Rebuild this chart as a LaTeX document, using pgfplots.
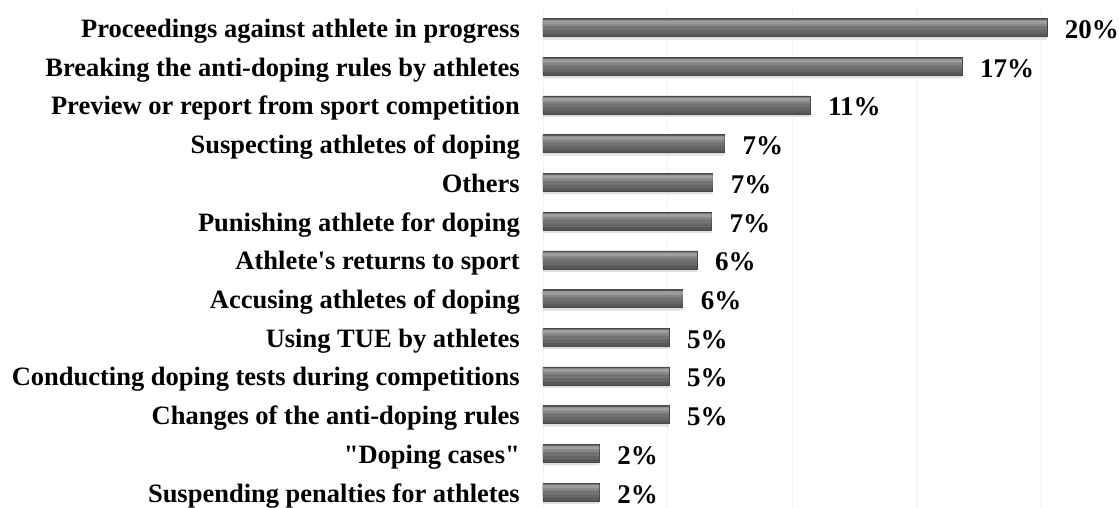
\documentclass[border=0pt]{standalone}
\usepackage{pgfplots}
\pgfplotsset{compat=1.18}
\usepackage{fontspec}
\setmainfont{Liberation Serif}
\pgfplotstableread{
y x m
0 20.2 20
1 16.8 17
2 10.7 11
3 7.27 7
4 6.8 7
5 6.75 7
6 6.17 6
7 5.6 6
8 5.05 5
9 5.05 5
10 5.05 5
11 2.25 2
12 2.25 2
}\bars
\begin{document}
\begin{tikzpicture}[x=1pt,y=1pt]
\path[use as bounding box] (0,0) rectangle (1119,507);
\begin{axis}[
  at={(543pt,-0.5pt)}, anchor=south west,
  scale only axis, width=498.8pt, height=495.4pt,
  xmin=0, xmax=20, ymin=-0.4, ymax=12.4, y dir=reverse,
  axis line style={draw=none},
  tick style={draw=none},
  clip=false,
  xtick={0,5,10,15,20}, xticklabels={},
  ytick={0,...,12},
  yticklabels={Proceedings against athlete in progress,Breaking the anti-doping rules by athletes,Preview or report from sport competition,Suspecting athletes of doping,Others,Punishing athlete for doping,Athlete\textquotesingle s returns to sport~,Accusing athletes of doping,Using TUE by athletes,Conducting doping tests during competitions,Changes of the anti-doping rules,\textquotedbl Doping cases\textquotedbl,Suspending penalties for athletes},
  yticklabel style={font=\bfseries\fontsize{26.5}{30}\selectfont, inner sep=0pt, xshift=-23pt, yshift=-10pt, anchor=base east, text=black},
  major tick length=0pt,
]
\draw[black!5, line width=0.8pt] foreach \g in {0,5,10,15,20} {(axis cs:\g,-0.5) -- (axis cs:\g,12.5)};
% shadow
\addplot[xbar, bar width=18pt, bar shift=-3pt, fill=black!12, draw=none] table[x=x,y=y] {\bars};
% base
\addplot[xbar, bar width=18pt, bar shift=0pt, fill=black!66, draw=black!72, line width=0.4pt] table[x=x,y=y] {\bars};
% body layers
\addplot[xbar, bar width=14pt, bar shift=1pt, fill=black!60, draw=none] table[x=x,y=y] {\bars};
\addplot[xbar, bar width=10pt, bar shift=2.5pt, fill=black!55, draw=none] table[x=x,y=y] {\bars};
\addplot[xbar, bar width=6pt, bar shift=4.5pt, fill=black!47, draw=none] table[x=x,y=y] {\bars};
\addplot[xbar, bar width=3pt, bar shift=5.5pt, fill=black!38, draw=none] table[x=x,y=y] {\bars};
% labels
\addplot[xbar, bar width=0pt, bar shift=0pt, draw=none, fill=none,
  point meta=explicit symbolic,
  nodes near coords={\pgfplotspointmeta\%},
  nodes near coords style={anchor=base west, inner sep=0pt, xshift=18pt, yshift=-11pt, text=black, font=\bfseries\fontsize{27}{30}\selectfont}]
 table[x=x,y=y,meta=m] {\bars};
\end{axis}
\end{tikzpicture}
\end{document}
